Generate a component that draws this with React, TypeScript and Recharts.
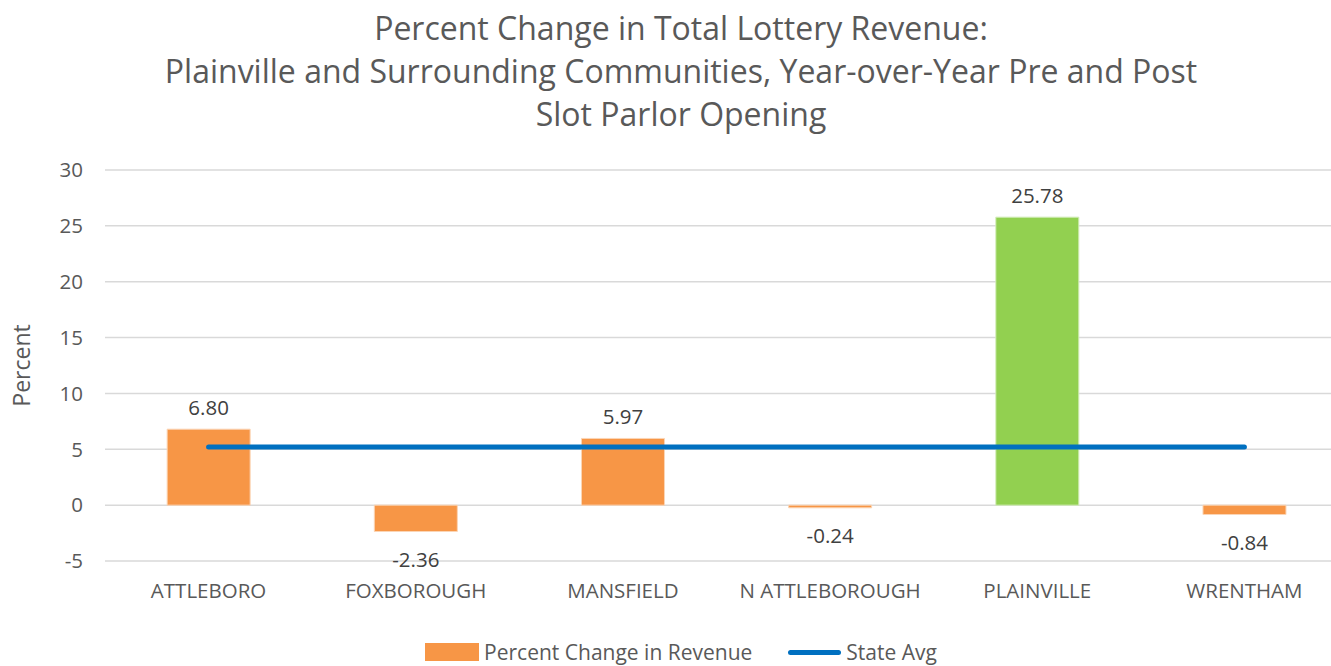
import {
  ComposedChart,
  Bar,
  Line,
  Cell,
  XAxis,
  YAxis,
  CartesianGrid,
  Legend,
  LabelList,
} from 'recharts';

const towns = ['ATTLEBORO', 'FOXBOROUGH', 'MANSFIELD', 'N ATTLEBOROUGH', 'PLAINVILLE', 'WRENTHAM'];
const pctChange = [6.8, -2.36, 5.97, -0.24, 25.78, -0.84];
const stateAvg = [5.2, 5.2, 5.2, 5.2, 5.2, 5.2];
const yTicks = [-5, 0, 5, 10, 15, 20, 25, 30];
const titleLines = [
  'Percent Change in Total Lottery Revenue:',
  'Plainville and Surrounding Communities, Year-over-Year Pre and Post',
  'Slot Parlor Opening',
];

const FONT = '"Open Sans", sans-serif';
const ORANGE = '#F79646';
const GREEN = '#92D050';
const BLUE = '#0070C0';
const TEXT = '#595959';

const data = towns.map((town, i) => ({
  town,
  change: pctChange[i],
  avg: stateAvg[i],
}));

const ValueLabel = (props: any) => {
  const { x, y, width, height, value } = props;
  const top = Math.min(y, y + height);
  const bottom = Math.max(y, y + height);
  const ty = value >= 0 ? top - 14 : bottom + 35;
  return (
    <text x={x + width / 2} y={ty} textAnchor="middle" fill="#404040" fontSize={20.5} fontFamily={FONT}>
      {Number(value).toFixed(2)}
    </text>
  );
};

const LegendBox = () => (
  <div
    style={{
      height: 36,
      display: 'flex',
      justifyContent: 'center',
      alignItems: 'flex-end',
      fontFamily: FONT,
      fontSize: 21,
      color: TEXT,
      paddingLeft: 14,
      boxSizing: 'border-box',
    }}
  >
    <span style={{ display: 'flex', alignItems: 'center', marginRight: 36 }}>
      <span style={{ width: 54, height: 18, background: ORANGE, marginRight: 5 }} />
      Percent Change in Revenue
    </span>
    <span style={{ display: 'flex', alignItems: 'center' }}>
      <span style={{ width: 53, height: 5, borderRadius: 3, background: BLUE, marginRight: 5 }} />
      State Avg
    </span>
  </div>
);

export default function App() {
  return (
    <div style={{ position: 'absolute', left: 0, top: 0, width: 1331, height: 666, overflow: 'hidden', background: '#fff' }}>
      <div
        style={{
          position: 'absolute',
          left: 0,
          top: 6,
          width: 1362,
          textAlign: 'center',
          fontFamily: FONT,
          fontSize: 32,
          lineHeight: '43px',
          color: TEXT,
        }}
      >
        {titleLines.map((t) => (
          <div key={t}>{t}</div>
        ))}
      </div>
      <ComposedChart
        width={1348}
        height={666}
        data={data}
        margin={{ top: 170, right: 0, left: 0, bottom: 0 }}
        barCategoryGap="30%"
      >
        <CartesianGrid vertical={false} stroke="#d9d9d9" strokeWidth={1.5} />
        <XAxis
          dataKey="town"
          axisLine={false}
          tickLine={false}
          height={69}
          tickSize={0}
          tickMargin={22}
          tick={{ fill: TEXT, fontSize: 20.5, fontFamily: FONT }}
        />
        <YAxis
          domain={[-5, 30]}
          ticks={yTicks}
          width={105}
          axisLine={false}
          tickLine={false}
          tickSize={0}
          tickMargin={22}
          tick={{ fill: TEXT, fontSize: 20.5, fontFamily: FONT }}
          label={{
            value: 'Percent',
            angle: -90,
            position: 'center',
            dx: -31,
            fill: TEXT,
            fontSize: 23,
            fontFamily: FONT,
          }}
        />
        <Legend verticalAlign="bottom" content={<LegendBox />} />
        <Bar dataKey="change" name="Percent Change in Revenue" fill={ORANGE} stroke="#fbd5b5" strokeWidth={1} isAnimationActive={false}>
          {data.map((d) => (
            <Cell key={d.town} fill={d.town === 'PLAINVILLE' ? GREEN : ORANGE} stroke={d.town === 'PLAINVILLE' ? '#d3ecb9' : '#fbd5b5'} />
          ))}
          <LabelList dataKey="change" content={<ValueLabel />} />
        </Bar>
        <Line
          dataKey="avg"
          name="State Avg"
          type="linear"
          stroke={BLUE}
          strokeWidth={5}
          strokeLinecap="round"
          dot={false}
          activeDot={false}
          isAnimationActive={false}
        />
      </ComposedChart>
    </div>
  );
}
